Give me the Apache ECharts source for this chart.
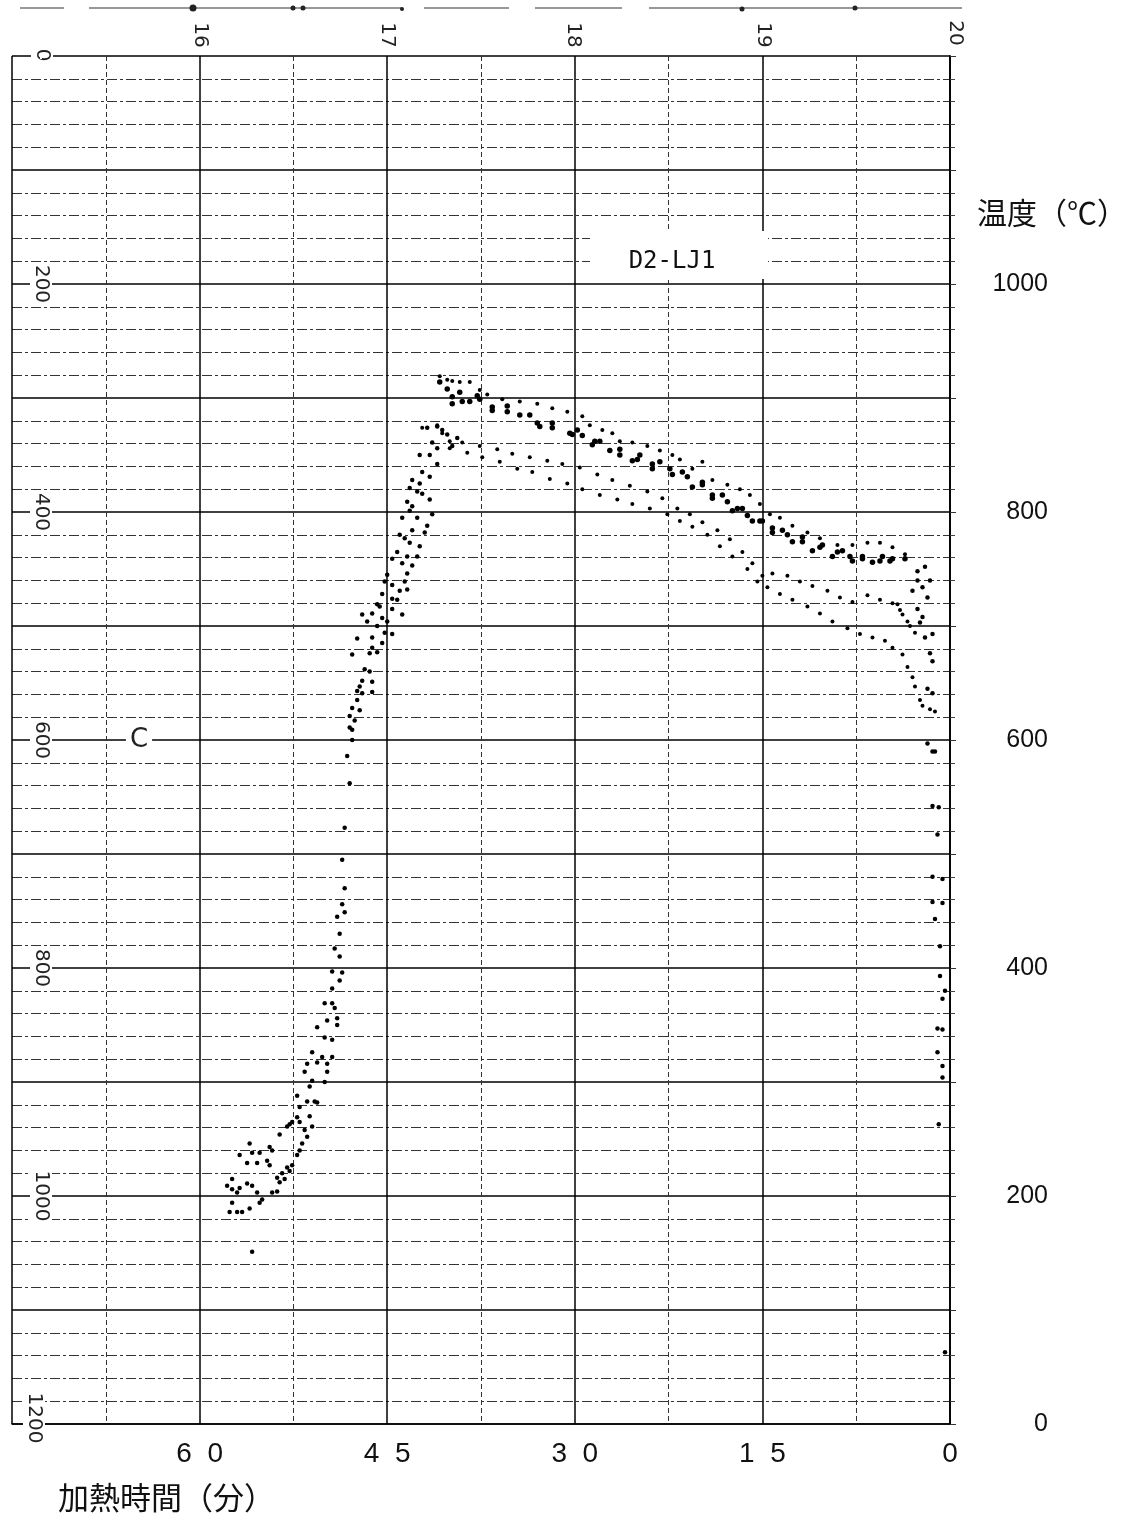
<!DOCTYPE html>
<html>
<head>
<meta charset="utf-8">
<script src="https://cdn.jsdelivr.net/npm/echarts@6/dist/echarts.min.js"></script>
<style>
html,body{margin:0;padding:0;background:#fff;}
#chart{width:1134px;height:1521px;}
</style>
</head>
<body>
<div id="chart"></div>
<script>
// x: heating time (min, 0 at right), y: temperature (°C)
const xTickLabels = {60: '6  0', 45: '4  5', 30: '3  0', 15: '1  5', 0: '0'};
const yTickLabels = [0, 200, 400, 600, 800, 1000];
const paperLabels = ['0', '200', '400', '600', '800', '1000', '1200'];
const topLabels = ['0', '16', '17', '18', '19', '20'];

// heating, lower part (main trace)
const heatLower = [[57.6,186],[57.0,186],[56.6,186],[56.0,189],[55.2,194],[55.0,197],[54.2,203],[53.8,204],[53.6,212],[53.2,215],[52.8,222],[52.6,227],[52.2,236],[52.0,240],[51.8,246],[51.4,252],[51.6,258],[51.0,261],[51.2,270],[50.6,282],[50.8,283],[51.4,283],[50.0,300],[51.0,301],[51.2,296],[52.2,288],[51.6,309],[49.8,309],[49.4,322],[49.8,316],[50.6,317],[50.2,322],[51.4,316],[51.0,326],[49.4,337],[50.0,339],[50.6,348],[49.0,350],[49.0,356],[49.8,354],[49.2,365],[49.4,369],[50.0,369],[49.4,382],[48.8,389],[48.6,396],[49.4,397],[48.8,410],[49.2,417],[48.8,430],[49.0,445],[48.4,449],[48.6,456],[48.4,470],[48.6,495],[48.4,523]];
// heating, loop at the start
const heatLoop = [[53.6,254],[53.0,261],[52.8,263],[52.6,265],[52.0,265],[52.0,278],[52.2,269],[54.4,243],[54.2,240],[55.2,238],[55.8,238],[56.0,246],[56.8,236],[56.2,229],[55.4,229],[54.6,231],[54.4,227],[53.8,216],[53.4,220],[53.0,225],[57.4,215],[57.4,206],[57.0,203],[56.8,207],[56.2,211],[55.8,209],[55.4,203],[57.4,194],[57.8,209],[55.8,151]];
// heating, upper part
const heatUpper = [[47.8,600],[48.0,562],[48.2,586],[47.8,609],[48.0,611],[47.6,617],[48.0,621],[47.2,626],[47.8,628],[47.4,635],[46.2,642],[47.0,641],[47.4,643],[47.2,647],[47.0,652],[46.2,651],[46.4,660],[46.8,662],[47.8,675],[45.8,677],[46.4,676],[46.2,681],[45.4,685],[46.2,690],[47.4,689],[45.2,694],[44.6,693],[45.8,700],[45.0,704],[45.4,707],[46.6,704],[46.2,711],[47.0,710],[43.8,710],[45.6,717],[44.6,715],[45.8,719],[44.2,723],[44.6,724],[45.4,728],[44.0,731],[43.4,732],[44.6,736],[45.2,739],[43.6,739],[43.4,746],[45.0,745],[43.0,753],[43.8,755],[44.6,759],[42.6,761],[43.4,761],[44.2,765],[43.2,773],[42.4,770],[43.6,777],[43.0,784],[44.0,780],[42.0,782],[41.8,788],[42.6,795],[43.8,795],[41.4,798],[43.2,801],[43.0,805],[43.4,809],[41.6,811],[42.2,816],[42.6,818],[43.2,821],[42.4,825],[43.0,828],[41.6,831],[42.2,835],[41.0,842],[42.4,850],[41.6,850],[41.0,856],[41.4,861],[39.8,858],[39.4,865],[40.2,868],[40.6,872],[41.0,875],[41.8,874]];
// upper band (thick)
const bandA = [[40.8,914],[40.2,908],[39.8,901],[39.0,897],[38.4,897],[37.6,899],[36.6,892],[35.4,888],[34.4,885],[33.0,878],[31.8,874],[30.4,869],[29.4,867],[28.4,862],[27.2,854],[26.4,850],[25.0,846],[23.8,842],[22.4,838],[21.0,831],[19.8,824],[19.0,815],[17.8,809],[17.0,803],[16.2,797],[15.2,792],[14.2,786],[13.0,780],[11.8,774],[10.4,769],[9.0,765],[8.0,761],[7.0,759],[5.6,757],[4.6,759],[3.6,759],
  [39.8,895],[36.6,889],[32.8,875],[30.2,868],[28.6,859],[25.4,845],[23.8,838],[22.2,833],[20.6,822],[19.0,812],[17.4,801],[15.8,792],[14.2,782],[12.6,774],[11.0,766],[9.4,761],[7.8,757],[6.2,756],[4.8,757],
  [39.2,905],[37.8,902],[35.4,893],[33.6,885],[31.8,878],[29.8,872],[28.0,862],[26.4,855],[24.8,850],[23.2,844],[21.4,835],[19.8,826],[18.2,815],[16.6,803],[15.0,792],[13.4,784],[11.8,778],[10.2,771],[8.6,766],[7.0,761],[5.4,761]];
// upper dotted trace
const traceB = [[40.8,919],[40.2,916],[39.8,915],[39.2,914],[38.4,914],[37.6,907],[37.0,903],[35.8,899],[34.4,897],[33.0,895],[31.8,891],[30.6,888],[29.4,884],[28.8,876],[27.8,872],[27.0,869],[26.4,862],[25.4,861],[24.2,858],[23.2,854],[22.2,850],[21.6,846],[20.6,838],[19.8,844],[19.0,828],[17.8,824],[16.8,820],[16.0,815],[15.2,807],[14.4,798],[13.6,795],[12.6,788],[11.4,782],[10.4,777],[9.0,771],[7.8,771],[6.6,773],[5.6,773],[4.6,769],[3.6,763]];
// lower traces
const traceC = [[42.2,874],[41.0,876],[40.6,869],[39.0,861],[37.6,858],[36.2,855],[35.0,851],[33.6,848],[32.2,845],[31.0,842],[29.6,839],[28.2,833],[27.0,828],[25.6,823],[24.2,818],[23.0,812],[21.8,803],[20.8,798],[19.8,791],[18.6,784],[17.6,776],[16.6,765],[15.8,755],[15.0,744],[14.2,746],[13.0,744],[12.0,739],[11.0,735],[9.8,731],[8.8,725],[7.8,721],[6.6,727],[5.6,723],[4.6,720],[4.2,719],[4.0,714],[3.8,710],[3.4,704],[3.2,700],[2.8,694]];
const traceD = [[40.0,862],[40.0,856],[38.6,852],[37.4,848],[36.0,844],[34.6,838],[33.4,835],[32.0,829],[30.6,825],[29.4,820],[28.0,815],[26.6,811],[25.4,807],[24.0,803],[22.6,798],[21.6,792],[20.6,787],[19.4,780],[18.4,770],[17.4,761],[16.2,750],[15.4,739],[14.6,734],[13.6,728],[12.6,723],[11.4,717],[10.4,711],[9.4,704],[8.2,698],[7.2,693],[6.2,690],[5.2,687],[4.6,681],[3.8,675],[3.4,664],[3.0,655],[2.8,647],[2.4,635],[2.2,630],[1.6,627],[1.2,625]];
// final drop at the right edge
const endDrop = [[2.0,752],[2.6,748],[2.6,740],[1.6,740],[2.2,734],[3.0,731],[1.8,725],[2.6,715],[2.2,708],[2.4,703],[1.4,693],[2.0,690],[1.6,676],[1.4,669],[1.8,645],[1.4,641],[1.8,597],[1.4,590],[1.2,590],[1.4,542],[0.9,541],[1.0,517],[1.4,480],[0.6,478],[1.4,458],[0.6,457],[1.2,443],[0.8,419],[0.8,393],[0.4,380],[0.6,373],[1.0,347],[0.6,346],[1.0,326],[0.6,314],[0.6,304],[0.9,263],[0.4,63]];

const GL = 12, GR = 950, GT = 56, GB = 1424;
const chart = echarts.init(document.getElementById('chart'), null, {renderer: 'canvas'});

function dots(name, data, size) {
  return {name, type: 'scatter', data, symbol: 'circle', symbolSize: size,
    itemStyle: {color: '#000', opacity: 1}, silent: true, z: 5};
}

const graphic = [];
// top dashed rail
[[20,64],[89,402],[424,509],[535,622],[649,962]].forEach(s => {
  graphic.push({type: 'line', shape: {x1: s[0], y1: 8, x2: s[1], y2: 8}, style: {stroke: '#333', lineWidth: 1.2}});
});
[[193,8,3.5],[293,8,2.5],[303,8,2.5],[402,9,2],[742,9,2.5],[855,8,2.5]].forEach(c => {
  graphic.push({type: 'circle', shape: {cx: c[0], cy: c[1], r: c[2]}, style: {fill: '#222'}});
});
// top rotated scale labels
const topX = [42, 200, 387, 573, 763, 955];
const topY = [55, 35, 35, 35, 35, 33];
topLabels.forEach((t, i) => {
  graphic.push({type: 'text', x: topX[i], y: topY[i], rotation: -Math.PI / 2, z: 10,
    style: {text: t, font: '20px "DejaVu Sans"', fill: '#222', align: 'center', verticalAlign: 'middle',
      backgroundColor: '#fff', padding: [1, 2]}});
});
// left rotated paper labels
paperLabels.forEach((t, i) => {
  const y = GT + (GB - GT) * (Number(t) / 1200);
  graphic.push({type: 'text', x: i === 6 ? 34 : 41, y: i === 6 ? y - 6 : y, rotation: -Math.PI / 2, z: 10,
    style: {text: i === 0 ? '' : t, font: '20px "DejaVu Sans"', fill: '#222', align: 'center', verticalAlign: 'middle',
      backgroundColor: '#fff', padding: [1, 3]}});
});
// "C" marker
graphic.push({type: 'text', x: 139, y: GT + (GB - GT) * 0.5, z: 10,
  style: {text: 'C', font: '26px "DejaVu Sans"', fill: '#222', align: 'center', verticalAlign: 'middle',
    backgroundColor: '#fff', padding: [0, 4]}});
// specimen label box
graphic.push({type: 'rect', shape: {x: 590, y: 231, width: 178, height: 48}, style: {fill: '#fff'}, z: 9});
graphic.push({type: 'text', x: 672, y: 262, z: 10,
  style: {text: 'D2-LJ1', font: '24px "DejaVu Sans Mono"', fill: '#111', align: 'center', verticalAlign: 'middle'}});
// axis names
graphic.push({type: 'text', x: 977, y: 213, z: 10,
  style: {text: '温度（℃）', font: '30px "Noto Sans CJK JP"', fill: '#111', align: 'left', verticalAlign: 'middle'}});
graphic.push({type: 'text', x: 58, y: 1497, z: 10,
  style: {text: '加熱時間（分）', font: '31px "Noto Sans CJK JP"', fill: '#111', align: 'left', verticalAlign: 'middle'}});

chart.setOption({
  animation: false,
  backgroundColor: '#fff',
  grid: {left: GL, right: 1134 - GR, top: GT, bottom: 1521 - GB, containLabel: false},
  xAxis: {
    type: 'value', min: 0, max: 75, interval: 15, inverse: true, position: 'bottom',
    axisLine: {show: true, lineStyle: {color: '#000', width: 1.5}},
    axisTick: {show: false},
    axisLabel: {show: true, margin: 16, fontSize: 28, color: '#111', fontFamily: 'Liberation Sans',
      formatter: v => (xTickLabels[v] !== undefined ? xTickLabels[v] : '')},
    splitLine: {show: true, lineStyle: {color: '#000', width: 1.5}},
    minorTick: {show: false, splitNumber: 2},
    minorSplitLine: {show: true, lineStyle: {color: '#333', width: 1, type: [5, 3]}}
  },
  yAxis: {
    type: 'value', min: 0, max: 1200, interval: 100, position: 'right',
    axisLine: {show: true, lineStyle: {color: '#000', width: 1.8}},
    axisTick: {show: true, inside: false, length: 6, lineStyle: {color: '#333'}},
    axisLabel: {show: true, margin: 98, align: 'right', fontSize: 25, color: '#111', fontFamily: 'Liberation Sans',
      formatter: v => (yTickLabels.indexOf(v) >= 0 ? String(v) : '')},
    splitLine: {show: true, lineStyle: {color: '#000', width: 1.5}},
    minorTick: {show: true, splitNumber: 5, length: 5, lineStyle: {color: '#444'}},
    minorSplitLine: {show: true, lineStyle: {color: '#333', width: 1, type: [10, 3, 3, 3]}}
  },
  graphic: graphic,
  series: [
    dots('heatLower', heatLower, 4.5),
    dots('heatLoop', heatLoop, 4.5),
    dots('heatUpper', heatUpper, 4.5),
    dots('bandA', bandA, 5.5),
    dots('traceB', traceB, 4),
    dots('traceC', traceC, 4),
    dots('traceD', traceD, 4),
    dots('endDrop', endDrop, 4.5)
  ]
});
</script>
</body>
</html>
